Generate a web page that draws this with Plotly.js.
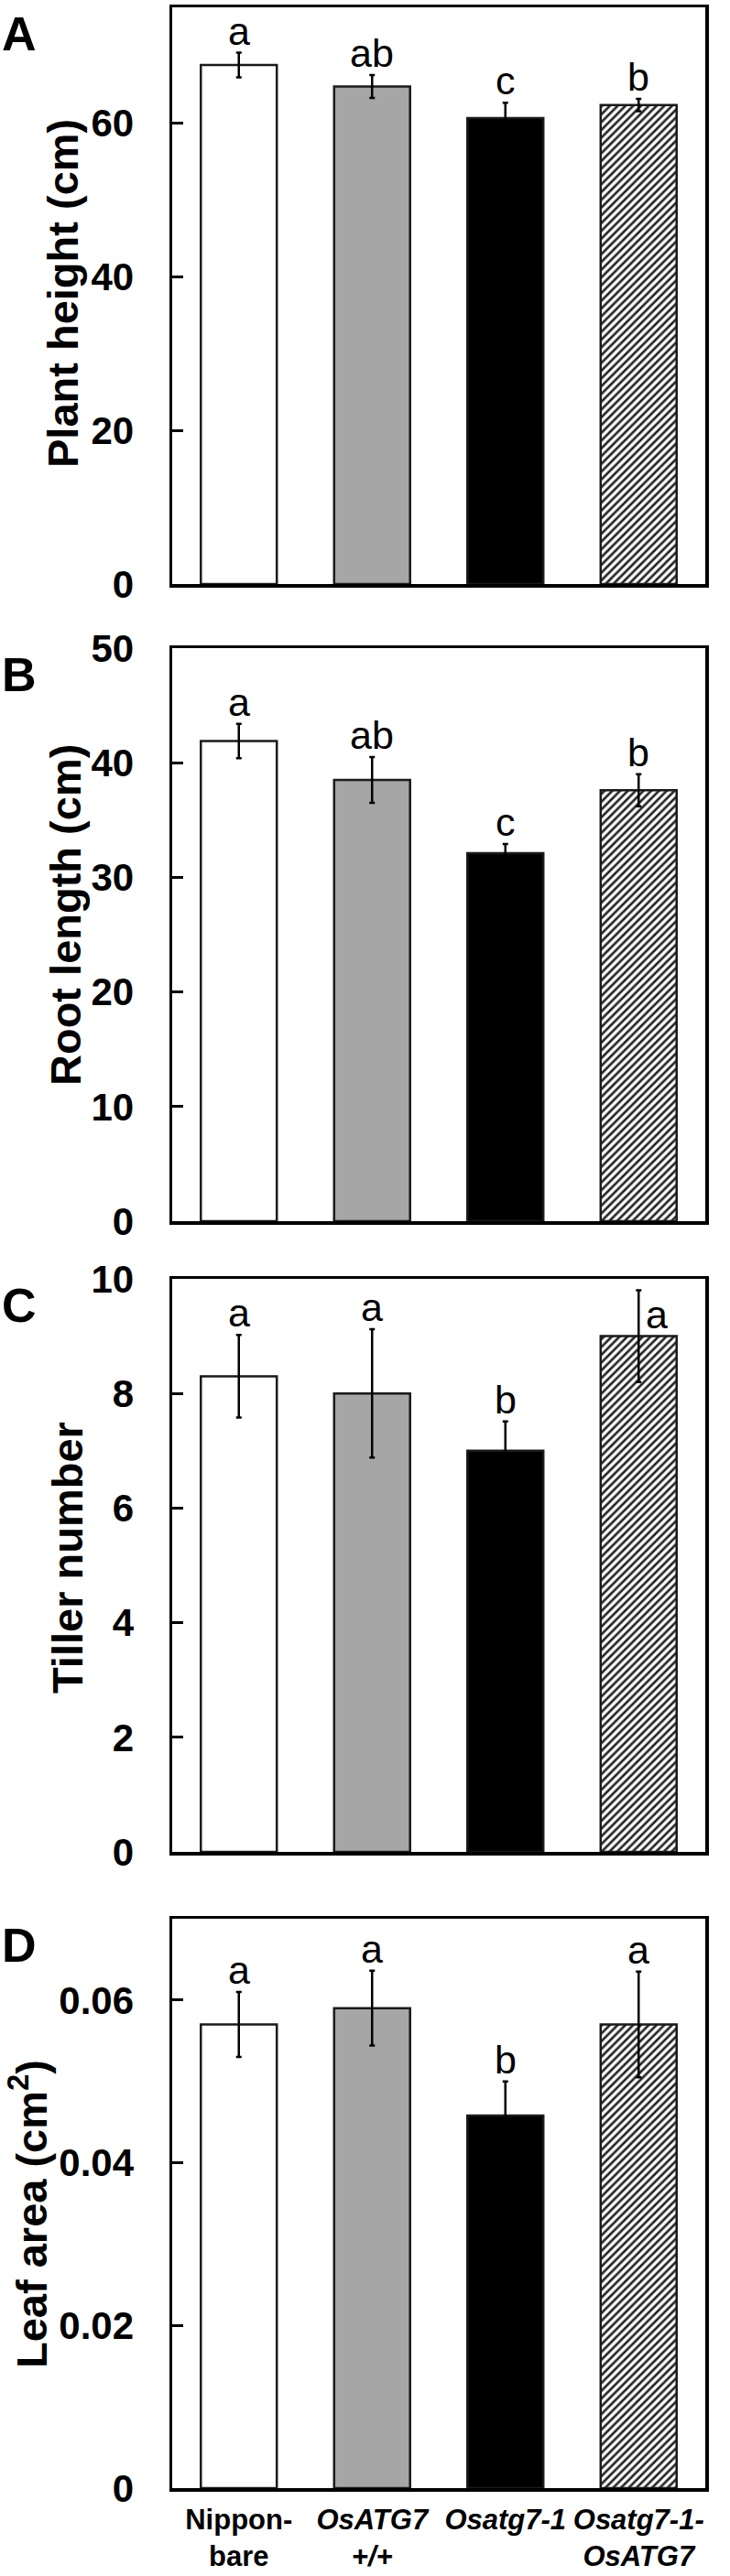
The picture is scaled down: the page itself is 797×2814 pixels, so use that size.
<!DOCTYPE html>
<html>
<head>
<meta charset="utf-8">
<script src="https://cdn.plot.ly/plotly-3.0.1.min.js"></script>
<style>html,body{margin:0;padding:0;background:#fff;}#chart{width:797px;height:2814px;}</style>
</head>
<body>
<div id="chart"></div>
<script>
// ---- data ----
const categories = ['Nipponbare', 'OsATG7 +/+', 'Osatg7-1', 'Osatg7-1-OsATG7'];
const tickLabels = ['Nippon-<br>bare', '<i>OsATG7</i><br><i>+/+</i>', '<i>Osatg7-1</i>', '<i>Osatg7-1-</i><br><i>OsATG7</i>'];
const barColors = ['#ffffff', '#a6a6a6', '#000000', '#ffffff'];
const barHatched = [false, false, false, true];

const heightMean = [67.5, 64.7, 60.6, 62.3];
const heightErr = [1.6, 1.5, 2.0, 0.8];
const heightLetters = ['a', 'ab', 'c', 'b'];

const rootMean = [41.9, 38.5, 32.1, 37.6];
const rootErr = [1.5, 2.0, 0.8, 1.4];
const rootLetters = ['a', 'ab', 'c', 'b'];

const tillerMean = [8.3, 8.0, 7.0, 9.0];
const tillerErr = [0.72, 1.12, 0.51, 0.8];
const tillerLetters = ['a', 'a', 'b', 'a'];

const leafMean = [0.057, 0.059, 0.0458, 0.057];
const leafErr = [0.004, 0.0046, 0.0042, 0.0065];
const leafLetters = ['a', 'a', 'b', 'a'];

const panelTitles = ['Plant height (cm)', 'Root length (cm)', 'Tiller number', 'Leaf area (cm<sup>2</sup>)'];
const panelLabels = ['A', 'B', 'C', 'D'];
const yRanges = [[0, 75], [0, 50], [0, 10], [0, 0.07]];
const yDticks = [20, 10, 2, 0.02];

// ---- layout helpers ----
const W = 797, H = 2814;
const FONT = '"Liberation Sans", Arial, Helvetica, sans-serif';
const boxLeft = 188, boxRight = 770;
const panelPx = [[8, 638], [708, 1334], [1397, 2023], [2096, 2718]];
const titleX = [68, 71, 74, 31];
const titleY = [321, 1000, 1702, 2419];
const means = [heightMean, rootMean, tillerMean, leafMean];
const errs = [heightErr, rootErr, tillerErr, leafErr];
const letters = [heightLetters, rootLetters, tillerLetters, leafLetters];

const data = [];
const layout = {
  width: W, height: H,
  margin: {l: 0, r: 0, t: 0, b: 0},
  paper_bgcolor: '#fff', plot_bgcolor: '#fff',
  showlegend: false,
  barmode: 'overlay',
  font: {family: FONT, color: '#000'},
  annotations: []
};

function pick(arr, keepHatched) {
  return arr.map((v, i) => (barHatched[i] === keepHatched ? v : null));
}

for (let p = 0; p < 4; p++) {
  const xa = p === 0 ? 'x' : 'x' + (p + 1);
  const ya = p === 0 ? 'y' : 'y' + (p + 1);
  const xk = p === 0 ? 'xaxis' : 'xaxis' + (p + 1);
  const yk = p === 0 ? 'yaxis' : 'yaxis' + (p + 1);
  // plain bars
  data.push({
    type: 'bar', x: categories, y: pick(means[p], false), xaxis: xa, yaxis: ya,
    width: 0.57,
    marker: {color: barColors, line: {color: '#1a1a1a', width: 2.5}},
    error_y: {type: 'data', array: pick(errs[p], false), visible: true, color: '#000', thickness: 2.5, width: 3},
    hoverinfo: 'skip'
  });
  // hatched bar
  data.push({
    type: 'bar', x: categories, y: pick(means[p], true), xaxis: xa, yaxis: ya,
    width: 0.57,
    marker: {
      color: '#ffffff',
      line: {color: '#1a1a1a', width: 2.5},
      pattern: {shape: '/', fgcolor: '#262626', bgcolor: '#ffffff', size: 6, solidity: 0.45, fillmode: 'replace'}
    },
    error_y: {type: 'data', array: pick(errs[p], true), visible: true, color: '#000', thickness: 2.5, width: 3},
    hoverinfo: 'skip'
  });
  const [top, bot] = panelPx[p];
  layout[xk] = {
    domain: [boxLeft / W, boxRight / W],
    anchor: ya,
    type: 'category',
    range: [-0.5, 3.5],
    showline: true, mirror: true, linecolor: '#000', linewidth: 3.5,
    ticks: '', showgrid: false, zeroline: false,
    showticklabels: p === 3,
    tickvals: categories, ticktext: tickLabels,
    tickfont: {family: FONT, size: 31, weight: 'bold', color: '#000'},
    ticklabelstandoff: 4,
    fixedrange: true
  };
  layout[yk] = {
    domain: [1 - bot / H, 1 - top / H],
    anchor: xa,
    range: yRanges[p], dtick: yDticks[p], tick0: 0,
    showline: true, mirror: true, linecolor: '#000', linewidth: 3.5,
    ticks: 'inside', ticklen: 12, tickwidth: 3, tickcolor: '#000',
    showgrid: false, zeroline: false,
    tickfont: {family: FONT, size: 42, weight: 'bold', color: '#000'},
    ticklabelstandoff: 30,
    fixedrange: true
  };
  // y-axis title (placed as rotated text)
  layout.annotations.push({
    xref: 'paper', yref: 'paper', x: titleX[p] / W, y: 1 - titleY[p] / H,
    xanchor: 'center', yanchor: 'middle', textangle: -90,
    text: panelTitles[p], showarrow: false,
    font: {family: FONT, size: 47, weight: 'bold', color: '#000'}
  });
  // significance letters
  const rng = yRanges[p][1];
  for (let i = 0; i < 4; i++) {
    const yTop = means[p][i] + errs[p][i];
    const crowded = (rng - yTop) / rng < 0.06;
    layout.annotations.push({
      xref: xa, yref: ya, x: categories[i], y: yTop,
      text: letters[p][i], showarrow: false,
      xanchor: 'center', yanchor: crowded ? 'top' : 'bottom',
      xshift: crowded ? 20 : 0, yshift: crowded ? 0 : -2,
      font: {family: FONT, size: 43, color: '#000'}
    });
  }
  // panel letter
  layout.annotations.push({
    xref: 'paper', yref: 'paper', x: 0, y: 1 - (top - 2) / H,
    xanchor: 'left', yanchor: 'top',
    text: panelLabels[p], showarrow: false,
    font: {family: FONT, size: 52, weight: 'bold', color: '#000'}
  });
}

Plotly.newPlot('chart', data, layout, {displayModeBar: false, staticPlot: true});
</script>
</body>
</html>
